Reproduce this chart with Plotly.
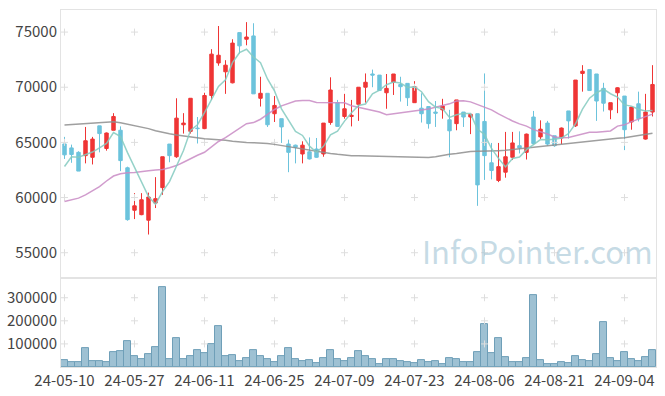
import plotly.graph_objects as go
from plotly.subplots import make_subplots

dates = [
    "24-05-10", "24-05-13", "24-05-14", "24-05-16", "24-05-17", "24-05-20", "24-05-21", "24-05-22", "24-05-23", "24-05-24",
    "24-05-27", "24-05-28", "24-05-29", "24-05-30", "24-05-31", "24-06-03", "24-06-04", "24-06-05", "24-06-07", "24-06-10",
    "24-06-11", "24-06-12", "24-06-13", "24-06-14", "24-06-17", "24-06-18", "24-06-19", "24-06-20", "24-06-21", "24-06-24",
    "24-06-25", "24-06-26", "24-06-27", "24-06-28", "24-07-01", "24-07-02", "24-07-03", "24-07-04", "24-07-05", "24-07-08",
    "24-07-09", "24-07-10", "24-07-11", "24-07-12", "24-07-15", "24-07-16", "24-07-17", "24-07-18", "24-07-19", "24-07-22",
    "24-07-23", "24-07-24", "24-07-25", "24-07-26", "24-07-29", "24-07-30", "24-07-31", "24-08-01", "24-08-02", "24-08-05",
    "24-08-06", "24-08-07", "24-08-08", "24-08-09", "24-08-12", "24-08-13", "24-08-14", "24-08-16", "24-08-19", "24-08-20",
    "24-08-21", "24-08-22", "24-08-23", "24-08-26", "24-08-27", "24-08-28", "24-08-29", "24-08-30", "24-09-02", "24-09-03",
    "24-09-04", "24-09-05", "24-09-06", "24-09-09", "24-09-10",
]

open_ = [
    64860, 64500, 64100, 63800, 63650, 66500, 64450, 66100, 66100, 62700,
    58850, 58450, 57950, 59500, 60900, 64850, 63700, 66600, 66000, 66300,
    66250, 69250, 72200, 71400, 70400, 74950, 74350, 74650, 69000, 69450,
    67600, 67150, 64850, 64750, 63950, 64150, 64400, 63950, 66800, 68600,
    67350, 67350, 68450, 70000, 71200, 71100, 69500, 70450, 70250, 70350,
    68600, 68100, 68250, 67750, 67950, 67050, 66700, 67750, 67300, 67600,
    66900, 63150, 61550, 62300, 63650, 64700, 64100, 67300, 65500, 66750,
    65600, 65400, 67850, 66500, 71250, 71600, 71200, 69900, 67950, 69500,
    69200, 66850, 68500, 65300, 67750,
]
high = [
    65500, 64800, 64200, 66400, 65500, 66500, 65900, 67650, 66450, 62800,
    60400, 60400, 60450, 61850, 63700, 64850, 69000, 67650, 69000, 67300,
    69500, 73450, 75550, 72450, 74350, 74950, 75900, 75800, 70950, 69450,
    69200, 67150, 65250, 64800, 65100, 65450, 65400, 66750, 70900, 68850,
    69400, 68850, 70000, 71250, 71600, 71100, 71200, 71200, 70950, 70350,
    70550, 69450, 68250, 68750, 68950, 67950, 68850, 67750, 67580, 67600,
    71250, 64950, 64950, 65950, 65950, 66000, 65800, 67850, 67000, 66950,
    65600, 66350, 67850, 70650, 72000, 71600, 71200, 70400, 68600, 70000,
    69200, 68200, 69600, 69400, 72000,
]
low = [
    63500, 63150, 62400, 63100, 63000, 64100, 64250, 66100, 62400, 57900,
    58050, 58400, 56650, 59050, 60250, 63200, 63600, 65800, 65800, 64900,
    66200, 68850, 71950, 69400, 70350, 73050, 73800, 69400, 68250, 66400,
    66850, 64950, 62300, 63100, 63100, 63450, 63600, 63700, 66600, 66400,
    67150, 66450, 66950, 68600, 70000, 69700, 68050, 69300, 68700, 68300,
    68600, 66800, 66250, 66400, 67150, 63650, 66100, 66400, 65750, 59250,
    61600, 61650, 61400, 61800, 63400, 64000, 63450, 64800, 65300, 64700,
    64600, 64850, 65350, 66400, 69600, 69700, 66950, 67800, 67100, 67650,
    64300, 66150, 66900, 65250, 67350,
]
close = [
    63870, 63900, 62400, 65150, 65300, 65800, 65850, 67350, 63350, 58000,
    59250, 59800, 60050, 59900, 63700, 63800, 67200, 66750, 69000, 66250,
    69250, 73000, 72900, 72000, 74000, 73750, 74550, 69400, 69450, 66600,
    68350, 66400, 64100, 64550, 64750, 63500, 63650, 66750, 69750, 66450,
    68050, 67450, 70000, 70450, 71100, 69700, 69900, 71200, 70050, 69050,
    70050, 67600, 66700, 67650, 68300, 66050, 68850, 67300, 67550, 61150,
    63800, 62450, 62800, 63700, 64950, 64500, 65750, 64900, 66200, 64850,
    64700, 66300, 66950, 70650, 71450, 69700, 68750, 68550, 68600, 69950,
    66150, 68200, 67150, 67750, 70250,
]
volume = [
    30000, 21400, 21400, 84000, 25700, 25700, 21400, 62900, 68600, 111400,
    45700, 34300, 54300, 84300, 347000, 34300, 127000, 34300, 47000, 71400,
    60000, 98600, 178600, 47000, 50000, 25700, 38600, 72900, 47000, 34300,
    21400, 47000, 81400, 34300, 25700, 30000, 17100, 38600, 72900, 34300,
    25700, 38600, 68600, 47100, 34300, 12900, 34300, 34300, 25700, 21400,
    17100, 30000, 21400, 25700, 12900, 38600, 34300, 21400, 21400, 64300,
    184300, 60000, 124300, 42900, 21400, 21400, 38600, 312900, 30000, 12900,
    12900, 21400, 17100, 47100, 30000, 25700, 55700, 192900, 38600, 25700,
    64300, 34300, 25700, 42900, 72900,
]

ma5_head = [62810, 63700, 63660, 63920]
ma20_head = [59640, 59780, 59950, 60250, 60600, 61000, 61500, 61950, 62150, 62250,
             62280, 62320, 62420, 62500, 62550, 62700, 62900, 63200, 63550]
# long moving average (gray)
ma_long = [66580, 66630, 66680, 66730, 66780, 66830, 66870, 66880, 66790, 66650,
           66500, 66400, 66250, 66050, 65900, 65780, 65680, 65580, 65480, 65400,
           65330, 65290, 65270, 65200, 65100, 65030, 65000, 64970, 64950, 64900,
           64820, 64720, 64600, 64480, 64370, 64250, 64150, 64080, 64000, 63920,
           63850, 63800, 63780, 63770, 63760, 63750, 63740, 63730, 63720, 63710,
           63680, 63650, 63640, 63700, 63850, 63930, 64000, 64100, 64170, 64190,
           64230, 64240, 64250, 64280, 64350, 64430, 64520, 64600, 64670, 64740,
           64780, 64830, 64900, 64980, 65060, 65120, 65190, 65250, 65310, 65370,
           65430, 65520, 65620, 65720, 65830]

price_ticks = [55000, 60000, 65000, 70000, 75000]
volume_ticks = [100000, 200000, 300000]
date_ticks = dates[::10]


def moving_average(head, values, n):
    out = list(head)
    for i in range(len(head), len(values)):
        out.append(sum(values[i - n + 1:i + 1]) / n)
    return out


ma5 = moving_average(ma5_head, close, 5)
ma20 = moving_average(ma20_head, close, 20)

UP = "#ef3535"
DOWN = "#6cc3dc"
FONT = "Noto Sans CJK KR"

fig = make_subplots(rows=2, cols=1, shared_xaxes=True, vertical_spacing=0,
                    row_heights=[0.751, 0.249])

fig.add_trace(go.Candlestick(
    x=dates, open=open_, high=high, low=low, close=close,
    increasing=dict(line=dict(color=UP, width=1), fillcolor=UP),
    decreasing=dict(line=dict(color=DOWN, width=1), fillcolor=DOWN),
    whiskerwidth=0,
), row=1, col=1)

fig.add_trace(go.Bar(x=dates, y=volume,
                     marker=dict(color="rgba(125,172,196,0.75)",
                                 line=dict(color="#6f9fb8", width=1))), row=2, col=1)

# grid crosses
gx = [d for d in date_ticks for _ in price_ticks]
gy = [p for _ in date_ticks for p in price_ticks]
fig.add_trace(go.Scatter(x=gx, y=gy, mode="markers", hoverinfo="skip",
                         marker=dict(symbol="cross-thin", size=5,
                                     line=dict(color="#dedede", width=1))), row=1, col=1)
vx = [d for d in date_ticks for _ in volume_ticks]
vy = [v for _ in date_ticks for v in volume_ticks]
fig.add_trace(go.Scatter(x=vx, y=vy, mode="markers", hoverinfo="skip",
                         marker=dict(symbol="cross-thin", size=5,
                                     line=dict(color="#dedede", width=1))), row=2, col=1)

fig.add_trace(go.Scatter(x=dates, y=ma_long, mode="lines", opacity=0.85,
                         line=dict(color="#8f8f8f", width=1.5)), row=1, col=1)
fig.add_trace(go.Scatter(x=dates, y=ma20, mode="lines", opacity=0.85,
                         line=dict(color="#c98bc5", width=1.5)), row=1, col=1)
fig.add_trace(go.Scatter(x=dates, y=ma5, mode="lines", opacity=0.85,
                         line=dict(color="#84cbc0", width=1.5)), row=1, col=1)

axis_common = dict(showline=True, linecolor="#e3e3e3", linewidth=1, mirror=True,
                   showgrid=False, zeroline=False, ticks="", automargin=False,
                   tickfont=dict(family=FONT, size=15, color="#444"))

fig.update_xaxes(type="category", categoryorder="array", categoryarray=dates,
                 range=[-0.5, len(dates) - 0.5], tickangle=0,
                 tickmode="array", tickvals=date_ticks, ticktext=date_ticks,
                 rangeslider=dict(visible=False), **axis_common)
fig.update_xaxes(showticklabels=False, row=1, col=1)
fig.update_yaxes(**axis_common)
fig.update_yaxes(range=[52700, 77000], tickmode="array", tickvals=price_ticks,
                 ticktext=[str(v) for v in price_ticks], row=1, col=1)
fig.update_yaxes(range=[0, 385000], tickmode="array", tickvals=volume_ticks,
                 ticktext=[str(v) for v in volume_ticks], row=2, col=1)

fig.add_annotation(text="InfoPointer.com", xref="paper", yref="paper",
                   x=0.80, y=0.325, xanchor="center", yanchor="middle", showarrow=False,
                   font=dict(family=FONT, size=31, color="rgba(160,195,212,0.6)"))

fig.update_layout(
    width=665, height=396,
    margin=dict(l=61, r=9, t=10, b=29),
    paper_bgcolor="white", plot_bgcolor="white",
    showlegend=False, bargap=0,
    font=dict(family=FONT),
)

fig.write_html("out.html", config={"displayModeBar": False},
               post_script="document.body.style.margin='0';document.body.style.overflow='hidden';")
